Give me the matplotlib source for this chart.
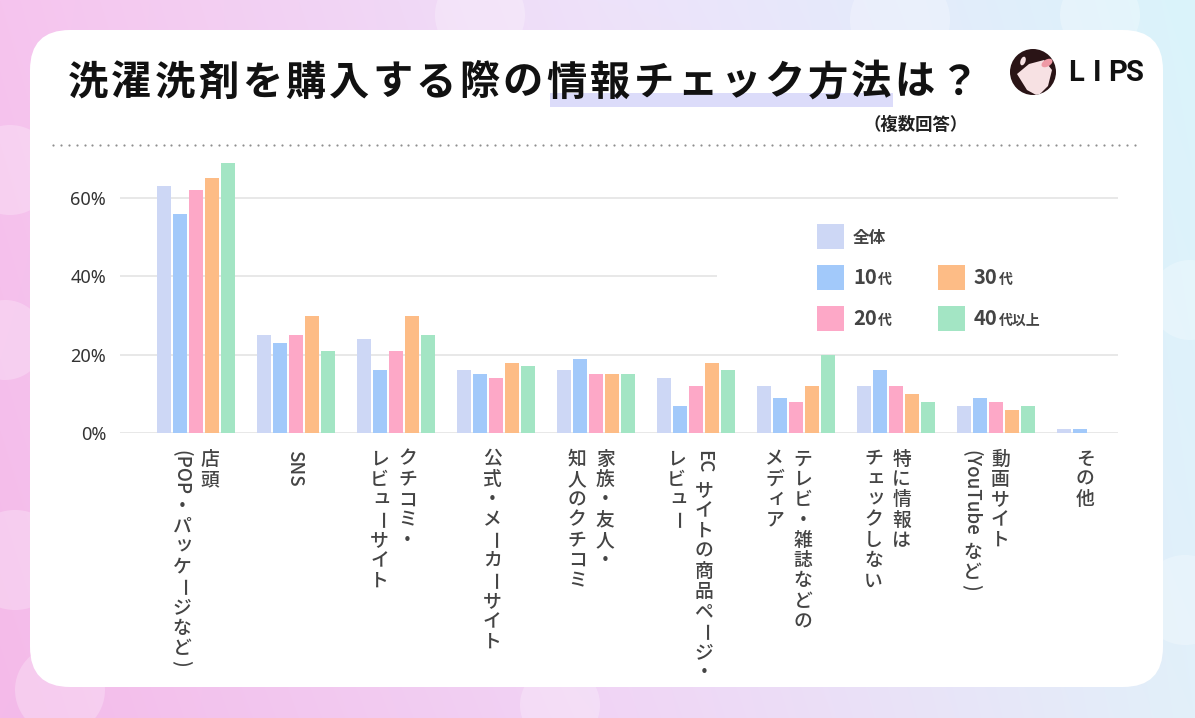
import numpy as np
import matplotlib
matplotlib.use("Agg")
import matplotlib.pyplot as plt
from matplotlib.patches import FancyBboxPatch, Rectangle, Circle, Polygon, Ellipse

plt.rcParams['font.family'] = ['Noto Sans CJK JP', 'DejaVu Sans']

# data (%)
categories = ["店頭\n(POP・パッケージなど)", "SNS", "クチコミ・\nレビューサイト", "公式・メーカーサイト",
              "家族・友人・\n知人のクチコミ", "EC サイトの商品ページ・\nレビュー", "テレビ・雑誌などの\nメディア",
              "特に情報は\nチェックしない", "動画サイト\n(YouTube など)", "その他"]
series = ["全体", "10代", "20代", "30代", "40代以上"]
v_all = [63, 25, 24, 16, 16, 14, 12, 12, 7, 1]
v_10 = [56, 23, 16, 15, 19, 7, 9, 16, 9, 1]
v_20 = [62, 25, 21, 14, 15, 12, 8, 12, 8, 0]
v_30 = [65, 30, 30, 18, 15, 18, 12, 10, 6, 0]
v_40 = [69, 21, 25, 17, 15, 16, 20, 8, 7, 0]
values = [v_all, v_10, v_20, v_30, v_40]
colors = ['#cdd7f5', '#a2c9fa', '#fda8c7', '#fdbc86', '#a3e5c4']
yticks = [0, 20, 40, 60]
title = "洗濯洗剤を購入する際の情報チェック方法は？"

W, H = 1195, 718
fig = plt.figure(figsize=(W / 100, H / 100), dpi=100)

# ---- background (pixel coords)
bg = fig.add_axes([0, 0, 1, 1], zorder=0)
bg.set_xlim(0, W); bg.set_ylim(H, 0); bg.axis('off')
top = np.array([[246, 196, 238], [238, 226, 250], [218, 244, 251]], float)
bot = np.array([[244, 186, 233], [241, 212, 245], [226, 240, 250]], float)
xx = np.linspace(0, 1, W)
def row(stops):
    return np.stack([np.interp(xx, [0, 0.5, 1], stops[:, c]) for c in range(3)], axis=1)
tr, br = row(top), row(bot)
yy = np.linspace(0, 1, H)[:, None, None]
grad = (tr[None] * (1 - yy) + br[None] * yy) / 255.
bg.imshow(grad, extent=(0, W, H, 0), aspect='auto')
for cx, cy, r in [(10, 170, 45), (5, 340, 40), (15, 560, 50), (60, 690, 45), (480, 15, 45),
                  (900, 20, 50), (1100, 15, 40), (1190, 300, 40), (1185, 600, 45), (560, 705, 40)]:
    bg.add_patch(Circle((cx, cy), r, fc='white', alpha=0.25, lw=0))
bg.add_patch(FancyBboxPatch((30, 30), 1133, 657, boxstyle="round,pad=0,rounding_size=40",
                            fc='white', ec='none'))

# ---- chart
ax = fig.add_axes([120 / W, 1 - 433 / H, 998 / W, (433 - 151) / H], zorder=1)
ax.patch.set_alpha(0)
x = np.arange(len(categories))
for k, (vals, c) in enumerate(zip(values, colors)):
    ax.bar(x + (k - 2) * 0.16, vals, width=0.14, color=c, zorder=2)
ax.set_xlim(-0.76, 9.22)
ax.set_ylim(0, 72)
ax.set_yticks(yticks)
ax.set_yticklabels([f"{t}%" for t in yticks])
ax.set_xticks([])
ax.grid(axis='y', color='#e6e6e6', lw=1.3)
ax.set_axisbelow(True)
for s in ax.spines.values():
    s.set_visible(False)
ax.tick_params(length=0, pad=10, labelsize=13, labelcolor='#333')
for lab in ax.get_yticklabels():
    lab.set_family(['Noto Sans', 'DejaVu Sans'])

# ---- overlay (pixel coords)
ov = fig.add_axes([0, 0, 1, 1], zorder=2)
ov.set_xlim(0, W); ov.set_ylim(H, 0); ov.axis('off')
renderer = fig.canvas.get_renderer()

# title
ov.add_patch(Rectangle((550, 93), 343, 14, fc='#dcdcfa', ec='none'))
for i, ch in enumerate(title):
    ov.text(88 + 43.5 * i, 83, ch, fontsize=29, fontweight='bold', ha='center', va='center', color='#111')
ov.text(968, 125, "（複数回答）", ha='right', va='center', fontsize=12.5, fontweight='bold', color='#222')

# dotted separator
xs = np.arange(53, 1143, 7.9)
ov.scatter(xs, np.full(len(xs), 145), s=2.5, c='#8f8f8f', lw=0)

# logo
circ = Circle((1033, 72), 23, fc='#2a1416', ec='none')
ov.add_patch(circ)
face = Polygon([(1017, 74), (1029, 64), (1044, 60), (1052, 70), (1048, 86), (1038, 96), (1027, 90)],
               fc='#f7e1e3', ec='none')
ov.add_patch(face); face.set_clip_path(circ)
ear = Ellipse((1047, 63), 12, 7, angle=-30, fc='#ee9aa5', ec='none')
ov.add_patch(ear); ear.set_clip_path(circ)
ov.add_patch(Ellipse((1023, 61), 5, 9, angle=20, fc='#f7e1e3', ec='none'))
for ch, cx in zip("LIPS", [1076, 1097, 1118, 1135]):
    ov.text(cx, 73, ch, fontsize=21, fontweight='bold', ha='center', va='center', color='#111',
            family=['Roboto', 'DejaVu Sans'])

# legend
ov.add_patch(Rectangle((717, 205), 403, 140, fc='white', ec='none'))
leg_pos = [(0, 0), (0, 1), (0, 2), (1, 1), (1, 2)]
for name, c, (col, rw) in zip(series, colors, leg_pos):
    sx = 817 + col * 121
    sy = 224 + rw * 41
    ov.add_patch(Rectangle((sx, sy), 27, 25, fc=c, ec='none'))
    tx, base = sx + 36, sy + 19
    m = 0
    while m < len(name) and name[m].isdigit():
        m += 1
    if m == 0:
        ov.text(tx, base, name, fontsize=12, fontweight='bold', va='baseline', color='#444')
    else:
        t = ov.text(tx, base, name[:m], fontsize=14.5, fontweight='bold', va='baseline', color='#444')
        w = t.get_window_extent(renderer).width
        ov.text(tx + w + 1, base, name[m:], fontsize=10, fontweight='bold', va='baseline', color='#444')

# vertical (tategaki) category labels
fs = 13.5
fs_px = fs * 100 / 72
pitch = 20.3
small = 'ッュェィャョ'

def is_latin(ch):
    return ord(ch) < 0x2000

def draw_vertical(xc, ytop, text):
    y = ytop
    i = 0
    while i < len(text):
        ch = text[i]
        if is_latin(ch):
            j = i
            while j < len(text) and is_latin(text[j]):
                j += 1
            run = text[i:j]
            y += (len(run) - len(run.lstrip())) * fs_px * 0.3
            core = run.strip()
            if core:
                t = ov.text(xc, y + 1, core, rotation=270, ha='center', va='top', fontsize=fs,
                            color='#444', fontweight='medium')
                y += t.get_window_extent(renderer).height + 2
            y += (len(run) - len(run.rstrip())) * fs_px * 0.3
            i = j
        else:
            rot = 270 if ch == 'ー' else 0
            dx = dy = 0
            if ch in small:
                dx, dy = fs_px * 0.12, -fs_px * 0.12
            ov.text(xc + dx, y + pitch / 2 + dy, ch, rotation=rot, ha='center', va='center',
                    fontsize=fs, color='#444', fontweight='medium')
            y += pitch
            i += 1

for i, cat in enumerate(categories):
    dx_disp, _ = ax.transData.transform((i * 0.988, 0))
    lines = cat.split("\n")
    n = len(lines)
    for k, line in enumerate(lines):
        xc = dx_disp + (n - 1) * 14 - k * 28
        draw_vertical(xc, 449, line)

fig.savefig("out.png", dpi=100)
